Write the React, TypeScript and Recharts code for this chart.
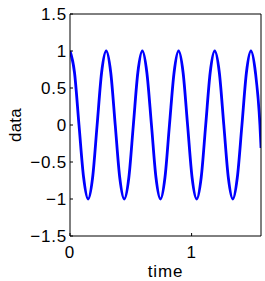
import React from "react"
import { Line, LineChart, XAxis, YAxis } from "recharts"

// ~8 points per oscillation
const times = [
    0, 0.037, 0.074, 0.112, 0.149, 0.186, 0.223, 0.26,
    0.298, 0.335, 0.372, 0.409, 0.446, 0.484, 0.521, 0.558,
    0.595, 0.632, 0.67, 0.707, 0.744, 0.781, 0.818, 0.856,
    0.893, 0.93, 0.967, 1.004, 1.042, 1.079, 1.116, 1.153,
    1.19, 1.228, 1.265, 1.302, 1.339, 1.376, 1.414, 1.451,
    1.488, 1.525, 1.562, 1.571,
]
const values = [
    1, 0.71, 0, -0.71, -1, -0.71, 0, 0.71,
    1, 0.71, 0, -0.71, -1, -0.71, 0, 0.71,
    1, 0.71, 0, -0.71, -1, -0.71, 0, 0.71,
    1, 0.71, 0, -0.71, -1, -0.71, 0, 0.71,
    1, 0.71, 0, -0.71, -1, -0.71, 0, 0.71,
    1, 0.71, 0, -0.31,
]
const xTicks = [0, 1]
const yTicks = [-1.5, -1, -0.5, 0, 0.5, 1, 1.5]

const dados = times.map((t, i) => ({ time: t, data: values[i] }))

const fmt = (v: number) => (v < 0 ? "\u2212" + Math.abs(v) : String(v))
const fonte = {
    fontFamily: "'Liberation Sans', Arial, sans-serif",
    fontSize: 17,
    letterSpacing: 0.8,
    fill: "#000",
}

const App = () => {
    return (
        <div style={{ position: "absolute", left: 0, top: 0 }}>
            <LineChart
                width={265}
                height={281}
                data={dados}
                margin={{ top: 14, right: 4, bottom: 0, left: 0 }}
            >
                <XAxis
                    dataKey="time"
                    type="number"
                    domain={[0, 1.5708]}
                    ticks={xTicks}
                    allowDataOverflow
                    height={45}
                    stroke="#000"
                    tickSize={-3}
                    tickMargin={13}
                    tick={fonte}
                    tickFormatter={fmt}
                    label={{ value: "time", position: "insideBottom", offset: 4, style: fonte }}
                />
                <XAxis
                    xAxisId="top"
                    orientation="top"
                    type="number"
                    domain={[0, 1.5708]}
                    ticks={xTicks}
                    allowDataOverflow
                    mirror
                    stroke="#000"
                    tickSize={3}
                    tick={false}
                />
                <YAxis
                    type="number"
                    domain={[-1.5, 1.5]}
                    ticks={yTicks}
                    allowDataOverflow
                    width={70}
                    stroke="#000"
                    tickSize={-3}
                    tickMargin={6}
                    tick={fonte}
                    tickFormatter={fmt}
                    label={{
                        value: "data",
                        angle: -90,
                        position: "insideLeft",
                        offset: 15,
                        style: { ...fonte, letterSpacing: 0.2, textAnchor: "middle" },
                    }}
                />
                <YAxis
                    yAxisId="right"
                    orientation="right"
                    type="number"
                    domain={[-1.5, 1.5]}
                    ticks={yTicks}
                    allowDataOverflow
                    mirror
                    stroke="#000"
                    tickSize={3}
                    tick={false}
                />
                <Line
                    type="monotone"
                    dataKey="data"
                    stroke="#0000ff"
                    strokeWidth={2.8}
                    dot={false}
                    isAnimationActive={false}
                />
            </LineChart>
        </div>
    )
}

export default App
